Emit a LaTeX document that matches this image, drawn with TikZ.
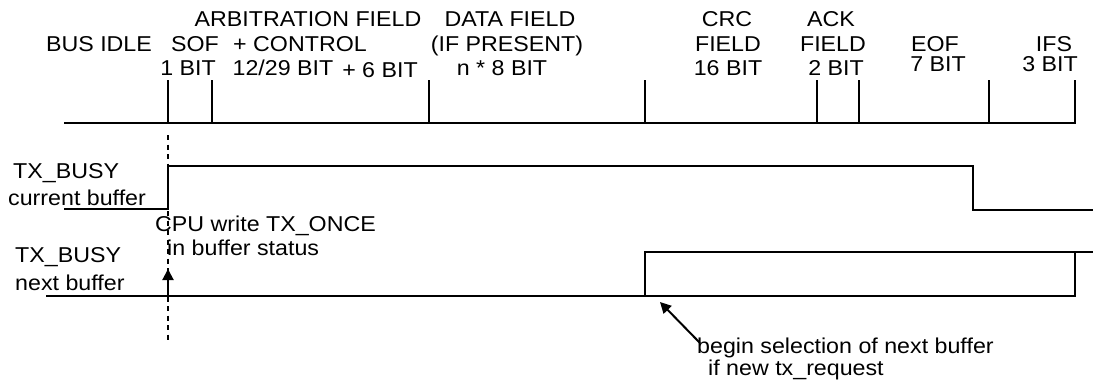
\documentclass[tikz,border=0pt]{standalone}
\usepackage{fontspec}
\setmainfont{Liberation Sans}[FakeStretch=1.08]
\usetikzlibrary{arrows.meta}
\begin{document}
\begin{tikzpicture}[x=1pt,y=-1pt,
  lbl/.style={inner sep=0pt,anchor=base,font=\fontsize{21.5}{26}\selectfont},
  lbll/.style={lbl,anchor=base west},
  wire/.style={line width=2pt,line cap=butt},
  tick/.style={line width=2pt},
  arr/.style={line width=2pt,-{Triangle[length=11pt,width=11pt]}}]
\useasboundingbox[fill=white] (0,0) rectangle (1093,384);
% header labels
\node[lbl] (arb) at (308,26.5) {ARBITRATION FIELD};
\node[lbl] (data) at (510,26.5) {DATA FIELD};
\node[lbl] (crc) at (727,26.5) {CRC};
\node[lbl] (ack) at (831,26.5) {ACK};
\node[lbl] (idle) at (99,51.5) {BUS IDLE};
\node[lbl] (sof) at (195,51.5) {SOF};
\node[lbl] (ctrl) at (300,51.5) {+ CONTROL};
\node[lbl] (ifp) at (507,51.5) {(IF PRESENT)};
\node[lbl] (crcf) at (728,51.5) {FIELD};
\node[lbl] (ackf) at (833,51.5) {FIELD};
\node[lbl] (eof) at (935,51.5) {EOF};
\node[lbl] (ifs) at (1054,51.5) {IFS};
\node[lbl] (sofb) at (188,75) {1 BIT};
\node[lbl] (arbb) at (283,75) {12/29 BIT};
\node[lbl] (ctlb) at (380,77) {+ 6 BIT};
\node[lbl] (datab) at (502,75) {n * 8 BIT};
\node[lbl] (crcb) at (728,75) {16 BIT};
\node[lbl] (ackb) at (836,75) {2 BIT};
\node[lbl] (eofb) at (938,71) {7 BIT};
\node[lbl] (ifsb) at (1050,71) {3 BIT};
% bus line and ticks
\draw[wire] (64,123) -- (1076,123);
\foreach \x in {168,212,429,645,817,859,989,1075}
  \draw[tick] (\x,80) -- (\x,123);
% dashed SOF marker
\draw[line width=1.5pt,dash pattern=on 5pt off 4.5pt] (168,135) -- (168,340);
% signal labels
\node[lbll] (tx1) at (13,178) {TX\_BUSY};
\node[lbll] (cur) at (8,205) {current buffer};
\node[lbll] (tx2) at (15,262) {TX\_BUSY};
\node[lbll] (nxt) at (15,290) {next buffer};
\node[lbll] (cpu) at (155,231) {CPU write TX\_ONCE};
\node[lbll] (cpu2) at (167,255) {in buffer status};
\node[lbll] (sel) at (697,353) {begin selection of next buffer};
\node[lbll] (sel2) at (708,375) {if new tx\_request};
% current buffer waveform
\draw[wire] (64,209) -- (168,209) -- (168,166) -- (973,166) -- (973,210) -- (1093,210);
% next buffer waveform
\draw[wire] (46,296) -- (1075,296) -- (1075,252);
\draw[wire] (645,296) -- (645,252) -- (1093,252);
% arrows
\coordinate (cpuT) at (168,296);
\coordinate (cpuH) at (168,269);
\draw[arr] (cpuT) -- (cpuH);
\coordinate (selT) at (700,343);
\coordinate (selH) at (660,302);
\draw[arr] (selT) -- (selH);
\end{tikzpicture}
\end{document}
